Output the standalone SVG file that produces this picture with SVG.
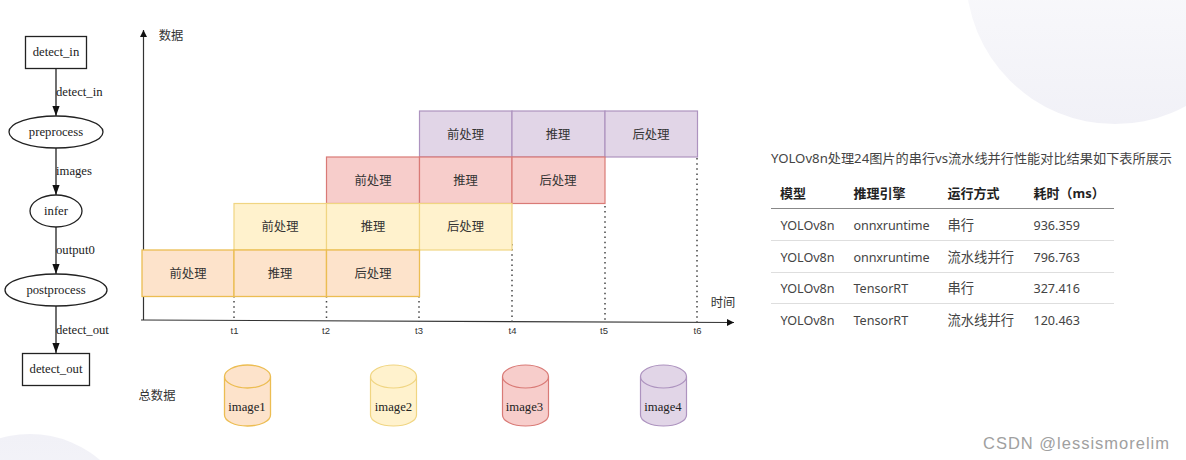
<svg xmlns="http://www.w3.org/2000/svg" width="1186" height="460" viewBox="0 0 1186 460">
<style>
.g{fill:none;stroke:#222;stroke-width:1.3}
.t{font-family:"Liberation Serif","Times New Roman",serif;font-size:12.700px;fill:#222}
.m{text-anchor:middle}
.c{font-family:"Noto Sans","Noto Sans CJK SC",sans-serif;font-size:12.300px;fill:#333;text-anchor:middle}
.l{font-family:"Noto Sans","Noto Sans CJK SC",sans-serif;font-size:13px;fill:#444}
.n{font-size:12.600px}
.w{font-size:13.300px}
.b{font-weight:700;fill:#222}
.k{font-family:"Liberation Sans",Arial,sans-serif;font-size:9.500px;fill:#333;text-anchor:middle}
.d{stroke:#444;stroke-width:1.5;stroke-dasharray:1.5 3.6;fill:none}
.o{fill:#fde3cb;stroke:#ecbd52;stroke-width:1.3}
.y{fill:#fff2cd;stroke:#f0d582;stroke-width:1.2}
.r{fill:#f7cdcb;stroke:#d97a76;stroke-width:1.2}
.p{fill:#e1d5e7;stroke:#ad93bf;stroke-width:1.2}
.rule{stroke:#dedede;stroke-width:1}
</style>
<defs>
<marker id="ga" markerWidth="11" markerHeight="8" refX="10" refY="4" orient="auto" markerUnits="userSpaceOnUse"><path d="M0 .4L10 4L0 7.600Z" fill="#111"/></marker>
<marker id="ax" markerWidth="9" markerHeight="8" refX="7" refY="4" orient="auto" markerUnits="userSpaceOnUse"><path d="M0 .5L7 4L0 7.500Z" fill="#111"/></marker>
<linearGradient id="bg" x1="0" y1="0" x2="0" y2="1"><stop offset="0" stop-color="#ffffff"/><stop offset="0.2" stop-color="#fdfdfe"/><stop offset="1" stop-color="#f1f1f7"/></linearGradient>
<linearGradient id="bg2" x1="0" y1="0" x2="0" y2="1"><stop offset="0" stop-color="#f1f1f7"/><stop offset="1" stop-color="#fafafc"/></linearGradient>
</defs>
<rect width="1186" height="460" fill="#fff"/>
<circle cx="1115" cy="-25" r="149" fill="url(#bg)"/>
<circle cx="30" cy="541" r="107" fill="url(#bg2)"/>

<g id="connectors">
<line class="g" x1="56" y1="68" x2="56" y2="116" marker-end="url(#ga)"/>
<line class="g" x1="56" y1="148" x2="56" y2="195" marker-end="url(#ga)"/>
<line class="g" x1="56" y1="227" x2="56" y2="274" marker-end="url(#ga)"/>
<line class="g" x1="56" y1="306" x2="56" y2="353" marker-end="url(#ga)"/>
<text class="t" x="56" y="96">detect_in</text>
<text class="t" x="56" y="175">images</text>
<text class="t" x="56" y="254">output0</text>
<text class="t" x="56" y="334">detect_out</text>
</g>
<g id="detect_in"><rect class="g" x="25.500" y="36.500" width="61" height="32"/><text class="t m" x="56" y="56">detect_in</text></g>
<g id="preprocess"><ellipse class="g" cx="56" cy="132" rx="47" ry="16"/><text class="t m" x="56" y="136">preprocess</text></g>
<g id="infer"><ellipse class="g" cx="56" cy="211" rx="26" ry="16"/><text class="t m" x="56" y="215">infer</text></g>
<g id="postprocess"><ellipse class="g" cx="56" cy="290" rx="51" ry="16"/><text class="t m" x="56" y="294">postprocess</text></g>
<g id="detect_out"><rect class="g" x="22.500" y="353.500" width="67" height="32"/><text class="t m" x="56" y="373">detect_out</text></g>

<g id="axes">
<line x1="143.500" y1="320" x2="143.500" y2="30" stroke="#333" stroke-width="1.2" marker-end="url(#ax)"/>
<line x1="141" y1="320" x2="734" y2="322.500" stroke="#333" stroke-width="1.2" marker-end="url(#ax)"/>
<text class="c" x="171" y="40">数据</text>
<text class="c" x="723" y="307">时间</text>
<text class="c" x="157" y="400">总数据</text>
</g>
<g id="guides">
<line class="d" x1="234" y1="296" x2="234" y2="321"/>
<line class="d" x1="326.500" y1="296" x2="326.500" y2="321"/>
<line class="d" x1="419" y1="296" x2="419" y2="322"/>
<line class="d" x1="512" y1="244" x2="512" y2="322"/>
<line class="d" x1="605" y1="206" x2="605" y2="322"/>
<line class="d" x1="697" y1="153" x2="697" y2="322"/>
<text class="k" x="234.500" y="334">t1</text>
<text class="k" x="326" y="334">t2</text>
<text class="k" x="419" y="334">t3</text>
<text class="k" x="512.500" y="334">t4</text>
<text class="k" x="604" y="334">t5</text>
<text class="k" x="697.500" y="334">t6</text>
</g>

<g id="row4">
<rect class="p" x="419.500" y="111" width="92.500" height="46"/><rect class="p" x="512" y="111" width="93" height="46"/><rect class="p" x="605" y="111" width="92.500" height="46"/>
<text class="c" x="465.500" y="138.500">前处理</text><text class="c" x="558" y="138.500">推理</text><text class="c" x="651" y="138.500">后处理</text>
</g>
<g id="row3">
<rect class="r" x="326.500" y="157" width="93" height="46.500"/><rect class="r" x="419.500" y="157" width="92.500" height="46.500"/><rect class="r" x="512" y="157" width="93" height="46.500"/>
<text class="c" x="373" y="184.500">前处理</text><text class="c" x="465.500" y="184.500">推理</text><text class="c" x="558" y="184.500">后处理</text>
</g>
<g id="row2">
<rect class="y" x="234" y="203.500" width="92.500" height="46.500"/><rect class="y" x="326.500" y="203.500" width="93" height="46.500"/><rect class="y" x="419.500" y="203.500" width="92.500" height="46.500"/>
<text class="c" x="280" y="231">前处理</text><text class="c" x="373" y="231">推理</text><text class="c" x="465.500" y="231">后处理</text>
</g>
<g id="row1">
<rect class="o" x="142" y="250" width="92" height="46.500"/><rect class="o" x="234" y="250" width="92.500" height="46.500"/><rect class="o" x="326.500" y="250" width="93" height="46.500"/>
<text class="c" x="188" y="277.500">前处理</text><text class="c" x="280" y="277.500">推理</text><text class="c" x="373" y="277.500">后处理</text>
</g>

<g id="image1"><path class="o" d="M224.500 376.500V415c0 6 10 11 23 11s23-5 23-11V376.500c0-6-10-11.500-23-11.500s-23 5.500-23 11.500c0 6 10 11.500 23 11.500s23-5.500 23-11.500"/><text class="t m" x="247" y="411">image1</text></g>
<g id="image2"><path class="y" d="M370.500 376.500V415c0 6 10 11 23 11s23-5 23-11V376.500c0-6-10-11.500-23-11.500s-23 5.500-23 11.500c0 6 10 11.500 23 11.500s23-5.500 23-11.500"/><text class="t m" x="393.500" y="411">image2</text></g>
<g id="image3"><path class="r" d="M502.500 376.500V415c0 6 10 11 23 11s23-5 23-11V376.500c0-6-10-11.500-23-11.500s-23 5.500-23 11.500c0 6 10 11.500 23 11.500s23-5.500 23-11.500"/><text class="t m" x="524.500" y="411">image3</text></g>
<g id="image4"><path class="p" d="M640.500 376.500V415c0 6 10 11 23 11s23-5 23-11V376.500c0-6-10-11.500-23-11.500s-23 5.500-23 11.500c0 6 10 11.500 23 11.500s23-5.500 23-11.500"/><text class="t m" x="663" y="411">image4</text></g>

<g id="table">
<text class="l" x="771" y="163" textLength="401" lengthAdjust="spacingAndGlyphs">YOLOv8n处理24图片的串行vs流水线并行性能对比结果如下表所展示</text>
<text class="l b" x="780" y="198">模型</text><text class="l b" x="853.500" y="198">推理引擎</text><text class="l b" x="947.500" y="198">运行方式</text><text class="l b" x="1033.500" y="198">耗时（ms）</text>
<line x1="771" y1="208.500" x2="1114" y2="208.500" stroke="#888"/>
<line class="rule" x1="771" y1="240.500" x2="1114" y2="240.500"/>
<line class="rule" x1="771" y1="272.500" x2="1114" y2="272.500"/>
<line class="rule" x1="771" y1="303.500" x2="1114" y2="303.500"/>
<text class="l n" x="780.500" y="230" textLength="54">YOLOv8n</text><text class="l n" x="853.500" y="230" textLength="76">onnxruntime</text><text class="l w" x="947.500" y="230">串行</text><text class="l n" x="1033.500" y="230" textLength="46.500">936.359</text>
<text class="l n" x="780.500" y="262" textLength="54">YOLOv8n</text><text class="l n" x="853.500" y="262" textLength="76">onnxruntime</text><text class="l w" x="947.500" y="262">流水线并行</text><text class="l n" x="1033.500" y="262" textLength="46.500">796.763</text>
<text class="l n" x="780.500" y="293" textLength="54">YOLOv8n</text><text class="l n" x="853.500" y="293">TensorRT</text><text class="l w" x="947.500" y="293">串行</text><text class="l n" x="1033.500" y="293" textLength="46.500">327.416</text>
<text class="l n" x="780.500" y="325" textLength="54">YOLOv8n</text><text class="l n" x="853.500" y="325">TensorRT</text><text class="l w" x="947.500" y="325">流水线并行</text><text class="l n" x="1033.500" y="325" textLength="46.500">120.463</text>
</g>
<text x="983" y="449" font-family="'Liberation Sans',Arial,sans-serif" font-size="16.500" letter-spacing="1" fill="#a0a0a0">CSDN @lessismorelim</text>
</svg>
